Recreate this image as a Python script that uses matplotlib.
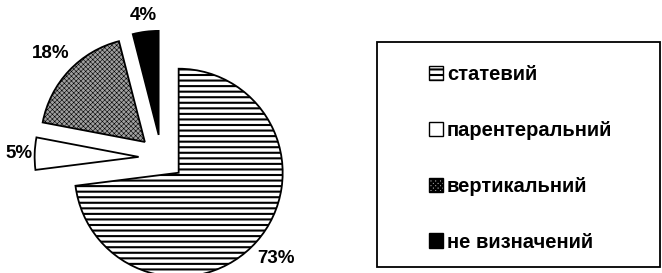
import numpy as np
import matplotlib.pyplot as plt
from matplotlib.patches import Rectangle

plt.rcParams['font.family'] = ['Liberation Sans', 'DejaVu Sans']
plt.rcParams['font.weight'] = 'bold'
plt.rcParams['hatch.linewidth'] = 1.5

# дані
labels = ['статевий', 'парентеральний', 'вертикальний', 'не визначений']
values = [73, 5, 18, 4]
colors = ['white', 'white', '#a0a0a0', 'black']
hatches = ['---', '', 'xxxxxxx', '']
label_dist = [1.25, 1.15, 1.24, 1.16]

fig = plt.figure(figsize=(6.62, 2.73), dpi=100)
ax = fig.add_axes([0, 0, 340 / 662, 1])

wedges, texts, autotexts = ax.pie(values, explode=[0.22] * 4, startangle=90, counterclock=False,
                                  colors=colors, autopct='%1.0f%%', pctdistance=1.2,
                                  wedgeprops=dict(edgecolor='black', linewidth=1.3),
                                  textprops=dict(fontsize=13.5, fontweight='bold'))
for w, h in zip(wedges, hatches):
    w.set_hatch(h)
if hasattr(wedges[2], 'set_hatch_linewidth'):
    wedges[2].set_hatch_linewidth(0.4)

# підписи відсотків
for w, t, d in zip(wedges, autotexts, label_dist):
    a = np.deg2rad((w.theta1 + w.theta2) / 2)
    t.set_position((w.center[0] + d * np.cos(a), w.center[1] + d * np.sin(a)))

ax.set_xlim(-161.5 / 104, (340 - 161.5) / 104)
ax.set_ylim(-115.4 / 104, (273 - 115.4) / 104)
ax.set_aspect('auto')

# рамка легенди
fig.patches.append(Rectangle((377 / 662, 6 / 273), 283 / 662, 225 / 273,
                             transform=fig.transFigure, fill=False,
                             edgecolor='black', linewidth=1.3))
handles = [Rectangle((0, 0), 1, 1, facecolor=c, edgecolor='black', hatch=h, linewidth=1)
           for c, h in zip(colors, hatches)]
if hasattr(handles[2], 'set_hatch_linewidth'):
    handles[2].set_hatch_linewidth(0.4)
fig.legend(handles, labels, loc='upper left', bbox_to_anchor=(429 / 662, 208 / 273),
           frameon=False, fontsize=14.5, handlelength=0.7, handleheight=0.7,
           handletextpad=0.2, labelspacing=1.83, borderpad=0, borderaxespad=0)

fig.savefig('out.png', dpi=100)
